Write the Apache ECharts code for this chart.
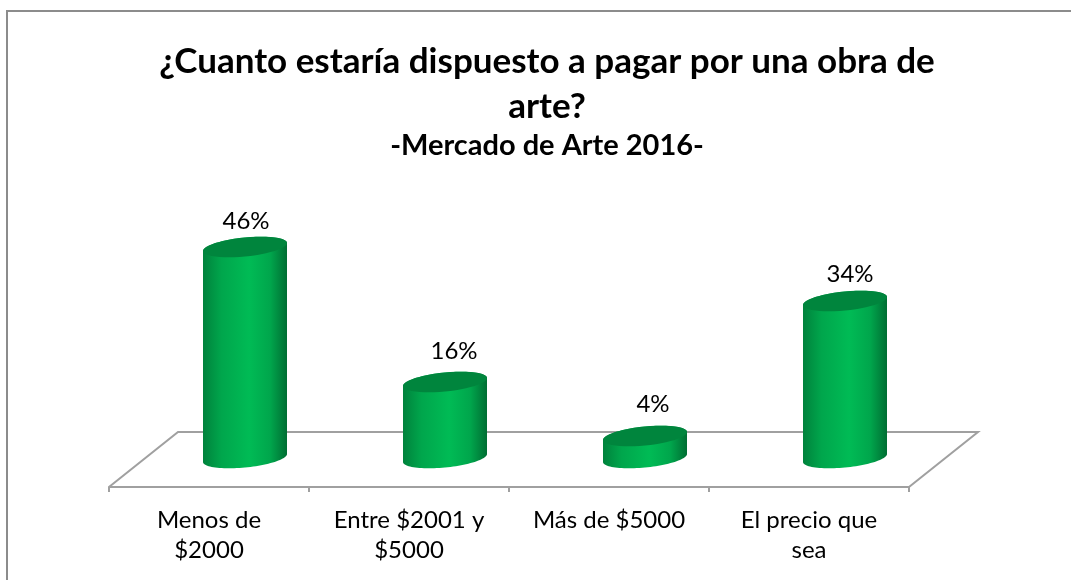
<!DOCTYPE html>
<html>
<head>
<meta charset="utf-8">
<script src="https://cdn.jsdelivr.net/npm/echarts@6/dist/echarts.min.js"></script>
<style>
html, body { margin: 0; padding: 0; background: #fff; }
#chart { width: 1071px; height: 580px; }
</style>
</head>
<body>
<div id="chart"></div>
<script>
var categories = ['Menos de\n$2000', 'Entre $2001 y\n$5000', 'Más de $5000', 'El precio que\nsea'];
var shares = [46, 16, 4, 34];
var titleText = '¿Cuanto estaría dispuesto a pagar por una obra de\narte?';
var subtitleText = '-Mercado de Arte 2016-';

// dibujo de la perspectiva (px)
var floorDepthX = 69, floorDepthY = 55;
var baseLift = 29, topLift = 33;
var labelNudge = [[-5, 3], [3, -2], [2, -3], [-1, 2]];

var myChart = echarts.init(document.getElementById('chart'), null, { renderer: 'canvas' });

// elipse inclinada: los lados siguen verticales, igual que el cilindro
function ellipsePoints(cx, cy, a, b, skew, from, to) {
	var pts = [];
	for (var i = 0; i <= 48; i++) {
		var t = from + (to - from) * i / 48;
		pts.push([cx + a * Math.cos(t), cy + b * Math.sin(t) - skew * Math.cos(t)]);
	}
	return pts;
}

function renderFloor(params, api) {
	var cs = params.coordSys;
	var y0 = api.coord([0, 0])[1];
	var left = cs.x, right = cs.x + cs.width;
	return {
		type: 'polyline',
		silent: true,
		shape: { points: [[left, y0], [left + floorDepthX, y0 - floorDepthY], [right + floorDepthX, y0 - floorDepthY], [right, y0]] },
		style: { stroke: '#a0a0a0', lineWidth: 2, fill: null }
	};
}

function renderCylinder(params, api) {
	var top = api.coord([api.value(0), api.value(1)]);
	var zero = api.coord([api.value(0), 0]);
	var band = api.size([1, 0])[0];
	var a = band * 0.21;
	var cx = zero[0] + band * 0.18;
	var yTop = top[1] - topLift;
	var yBase = zero[1] - baseLift;
	var b = 9.5, skew = 4;
	var body = ellipsePoints(cx, yBase, a, b, skew, 0, Math.PI)
		.concat(ellipsePoints(cx, yTop, a, b, skew, Math.PI, 2 * Math.PI));
	var nudge = labelNudge[params.dataIndex];
	return {
		type: 'group',
		children: [{
			type: 'polygon',
			shape: { points: body },
			style: {
				fill: new echarts.graphic.LinearGradient(0, 0, 1, 0, [
					{ offset: 0, color: '#00823c' },
					{ offset: 0.22, color: '#00a64c' },
					{ offset: 0.55, color: '#00bb55' },
					{ offset: 0.8, color: '#00a64c' },
					{ offset: 1, color: '#006e33' }
				])
			}
		}, {
			type: 'polygon',
			shape: { points: ellipsePoints(cx, yTop, a, b, skew, 0, 2 * Math.PI) },
			style: { fill: '#00853d' }
		}, {
			type: 'text',
			style: {
				x: cx + 6 + nudge[0],
				y: yTop - 29 + nudge[1],
				text: api.value(1) + '%',
				align: 'center',
				verticalAlign: 'middle',
				fill: '#000',
				font: '24px Lato'
			}
		}]
	};
}

var option = {
	backgroundColor: '#fff',
	animation: false,
	title: {
		text: titleText,
		subtext: subtitleText,
		left: 542,
		top: 34,
		textAlign: 'center',
		itemGap: 2,
		textStyle: { fontFamily: 'Lato', fontWeight: 'bold', fontSize: 35, lineHeight: 45, color: '#000' },
		subtextStyle: { fontFamily: 'Lato', fontWeight: 'bold', fontSize: 29, color: '#000' }
	},
	grid: { left: 109, right: 162, top: 217, height: 270 },
	xAxis: {
		type: 'category',
		data: categories,
		axisLine: { lineStyle: { color: '#a0a0a0', width: 2 } },
		axisTick: { show: true, length: 5, lineStyle: { color: '#a0a0a0', width: 2 } },
		axisLabel: { color: '#000', fontFamily: 'Lato', fontSize: 24, lineHeight: 30, margin: 18, interval: 0 }
	},
	yAxis: { type: 'value', min: 0, max: 60, show: false },
	series: [{
		type: 'custom',
		renderItem: renderFloor,
		data: [[0, 0]],
		silent: true,
		z: 1
	}, {
		type: 'custom',
		renderItem: renderCylinder,
		data: shares.map(function (v, i) { return [i, v]; }),
		encode: { x: 0, y: 1 },
		z: 2
	}],
	graphic: [{
		type: 'polyline',
		silent: true,
		shape: { points: [[7, 580], [7, 11], [1071, 11]] },
		style: { stroke: '#8c8c8c', lineWidth: 2, fill: null },
		z: 0
	}]
};
myChart.setOption(option);
window.addEventListener('resize', function () {
	myChart.resize();
});
</script>
</body>
</html>
